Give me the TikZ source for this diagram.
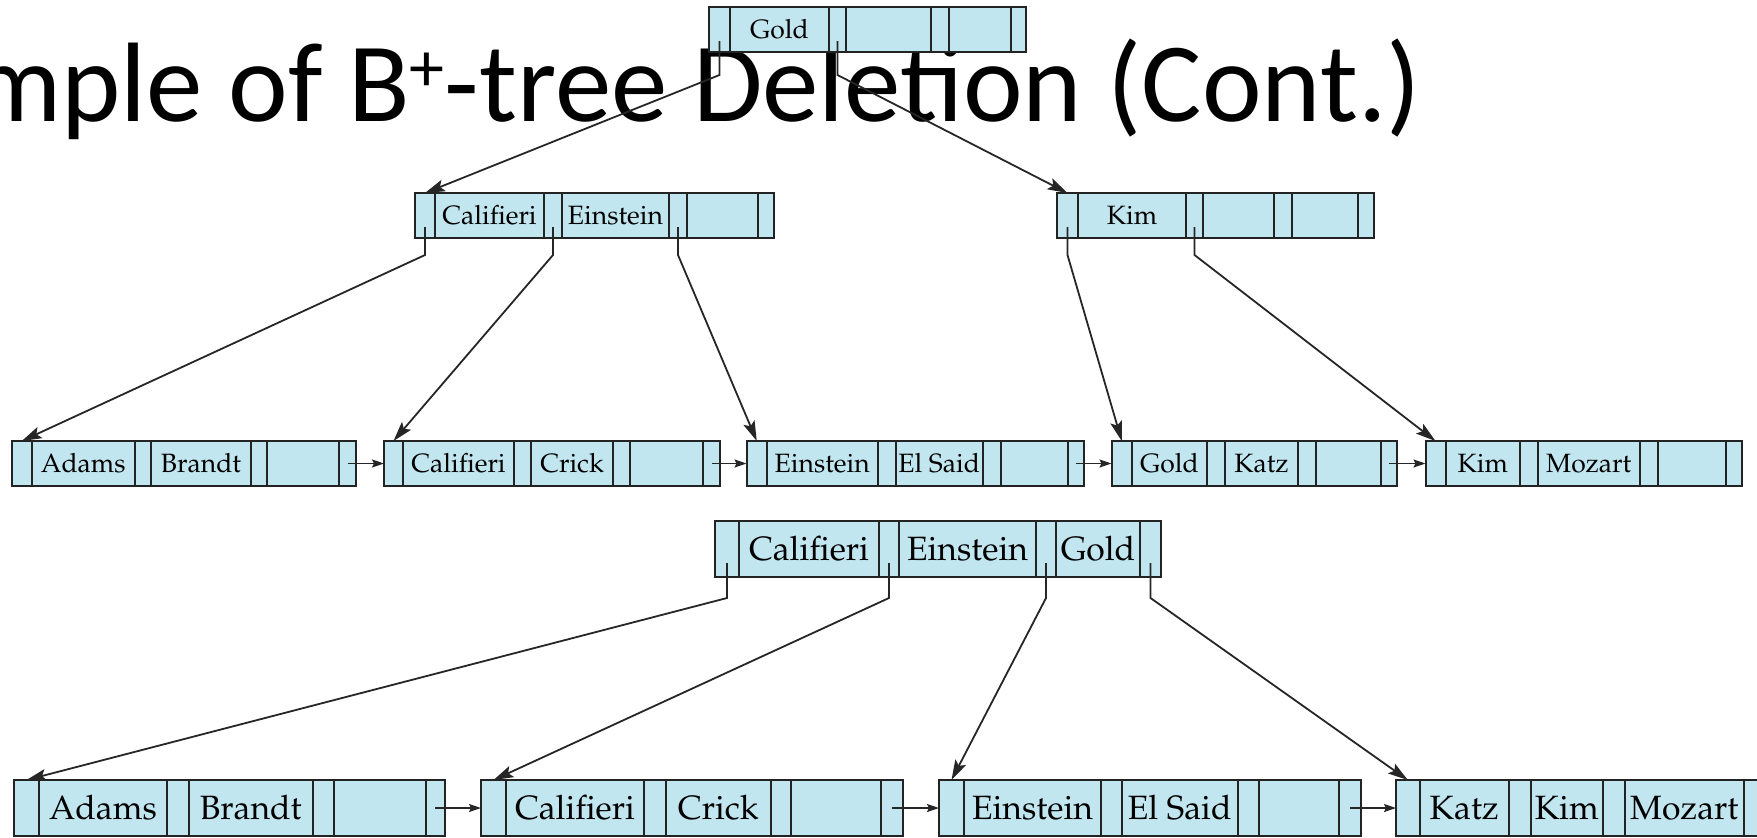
\documentclass[tikz,border=0pt]{standalone}
\usepackage[T1]{fontenc}
\usepackage{fontspec}
\usepackage{tikz}
\usetikzlibrary{arrows.meta}

\newfontfamily\titlefont{Carlito}
\definecolor{cellblue}{RGB}{194,230,240}
\definecolor{celledge}{RGB}{35,35,35}

\tikzset{
	cellsm/.style={draw=celledge, fill=cellblue, line width=2pt, inner sep=0pt, outer sep=0pt,
		minimum height=45pt, text height=18.3pt, text depth=0pt, anchor=north west,
		font={\fontencoding{T1}\fontfamily{ppl}\fontsize{26.5}{30}\selectfont}},
	cellbg/.style={cellsm, minimum height=56pt, text height=23.3pt,
		font={\fontencoding{T1}\fontfamily{ppl}\fontsize{33.7}{38}\selectfont}},
	link/.style={line width=1.8pt, draw=black!85, -{Stealth[length=20pt, width=12pt, inset=4pt]}},
	nextleaf/.style={line width=1.8pt, draw=black!85, -{Stealth[length=12pt, width=8pt, inset=2pt]}},
	slidetitle/.style={anchor=base east, inner sep=0pt, font={\titlefont\fontsize{113}{120}\selectfont}}
}

% one B+-tree node: name, cell style, top left corner, list of width/key
\newcommand{\bpnode}[5]{%
	\node[inner sep=0pt, outer sep=0pt, minimum size=0pt] (#1-0) at (#3,#4) {};
	\foreach \w/\k [count=\i, remember=\i as \j (initially 0)] in {#5}
	{
		\node[#2, minimum width=\w pt] (#1-\i) at (#1-\j.north east) {\k};
	}
}

\begin{document}
\begin{tikzpicture}[x=1pt, y=-1pt]
	\useasboundingbox (0,0) rectangle (1757,838);
	\clip (0,0) rectangle (1757,838);

	\node[slidetitle] (title) at (1421,121) {Example of B\raisebox{30pt}{\fontsize{70}{70}\selectfont +}-tree Deletion (Cont.)};

	\begin{scope}
		\bpnode{root}{cellsm}{709}{7}{21/, 99/Gold, 17/, 85/, 18/, 62/, 15/}
		\bpnode{inA}{cellsm}{415}{193}{20/, 109/Califieri, 18/, 107/Einstein, 18/, 71/, 16/}
		\bpnode{inB}{cellsm}{1057}{193}{21/, 108/Kim, 17/, 71/, 18/, 66/, 16/}
		\bpnode{lf1}{cellsm}{12}{441}{19.5/, 103.5/Adams, 16/, 100/Brandt, 16/, 72/, 17/}
		\bpnode{lf2}{cellsm}{384}{441}{19/, 111/Califieri, 17/, 82/Crick, 17/, 73/, 17/}
		\bpnode{lf3}{cellsm}{746.5}{441}{20.5/, 110.5/Einstein, 18/, 87.5/El Said, 17.5/, 67/, 16.5/}
		\bpnode{lf4}{cellsm}{1111.5}{441}{20.5/, 75/Gold, 18/, 73/Katz, 18/, 65/, 16/}
		\bpnode{lf5}{cellsm}{1425.5}{441}{20/, 74.5/Kim, 17.5/, 102.5/Mozart, 17.5/, 68.5/, 16/}
	\end{scope}

	\begin{scope}
		\bpnode{nroot}{cellbg}{715}{521}{24/, 140/Califieri, 20/, 137/Einstein, 20/, 84/Gold, 21/}
		\bpnode{nlf1}{cellbg}{14}{780}{25/, 128/Adams, 22/, 123.5/Brandt, 21.5/, 91.5/, 19.5/}
		\bpnode{nlf2}{cellbg}{481}{780}{25/, 138/Califieri, 22/, 104.5/Crick, 20.5/, 90/, 22/}
		\bpnode{nlf3}{cellbg}{939}{780}{25/, 137/Einstein, 20.5/, 116.5/El Said, 20.5/, 80/, 22.5/}
		\bpnode{nlf4}{cellbg}{1396}{780}{23.5/, 89.5/Katz, 21.5/, 72.5/Kim, 22/, 118.5/Mozart, 22.5/}
	\end{scope}

	\begin{scope}[link]
		\foreach \p/\c in {root-1/inA-1, root-3/inB-1}
		{
			\draw ([yshift=11pt]\p.south) -- ++(0,34) -- (\c.north);
		}
		\foreach \p/\c in {inA-1/lf1-1, inA-3/lf2-1, inA-5/lf3-1, inB-1/lf4-1, inB-3/lf5-1}
		{
			\draw ([yshift=11pt]\p.south) -- ++(0,28) -- (\c.north);
		}
		\foreach \p/\c in {nroot-1/nlf1-1, nroot-3/nlf2-1, nroot-5/nlf3-1, nroot-7/nlf4-1}
		{
			\draw ([yshift=14pt]\p.south) -- ++(0,35) -- (\c.north);
		}
	\end{scope}

	\begin{scope}[nextleaf]
		\foreach \a/\b in {lf1/lf2, lf2/lf3, lf3/lf4, lf4/lf5, nlf1/nlf2, nlf2/nlf3, nlf3/nlf4}
		{
			\draw (\a-7.center) -- (\b-1.west);
		}
	\end{scope}
\end{tikzpicture}
\end{document}
